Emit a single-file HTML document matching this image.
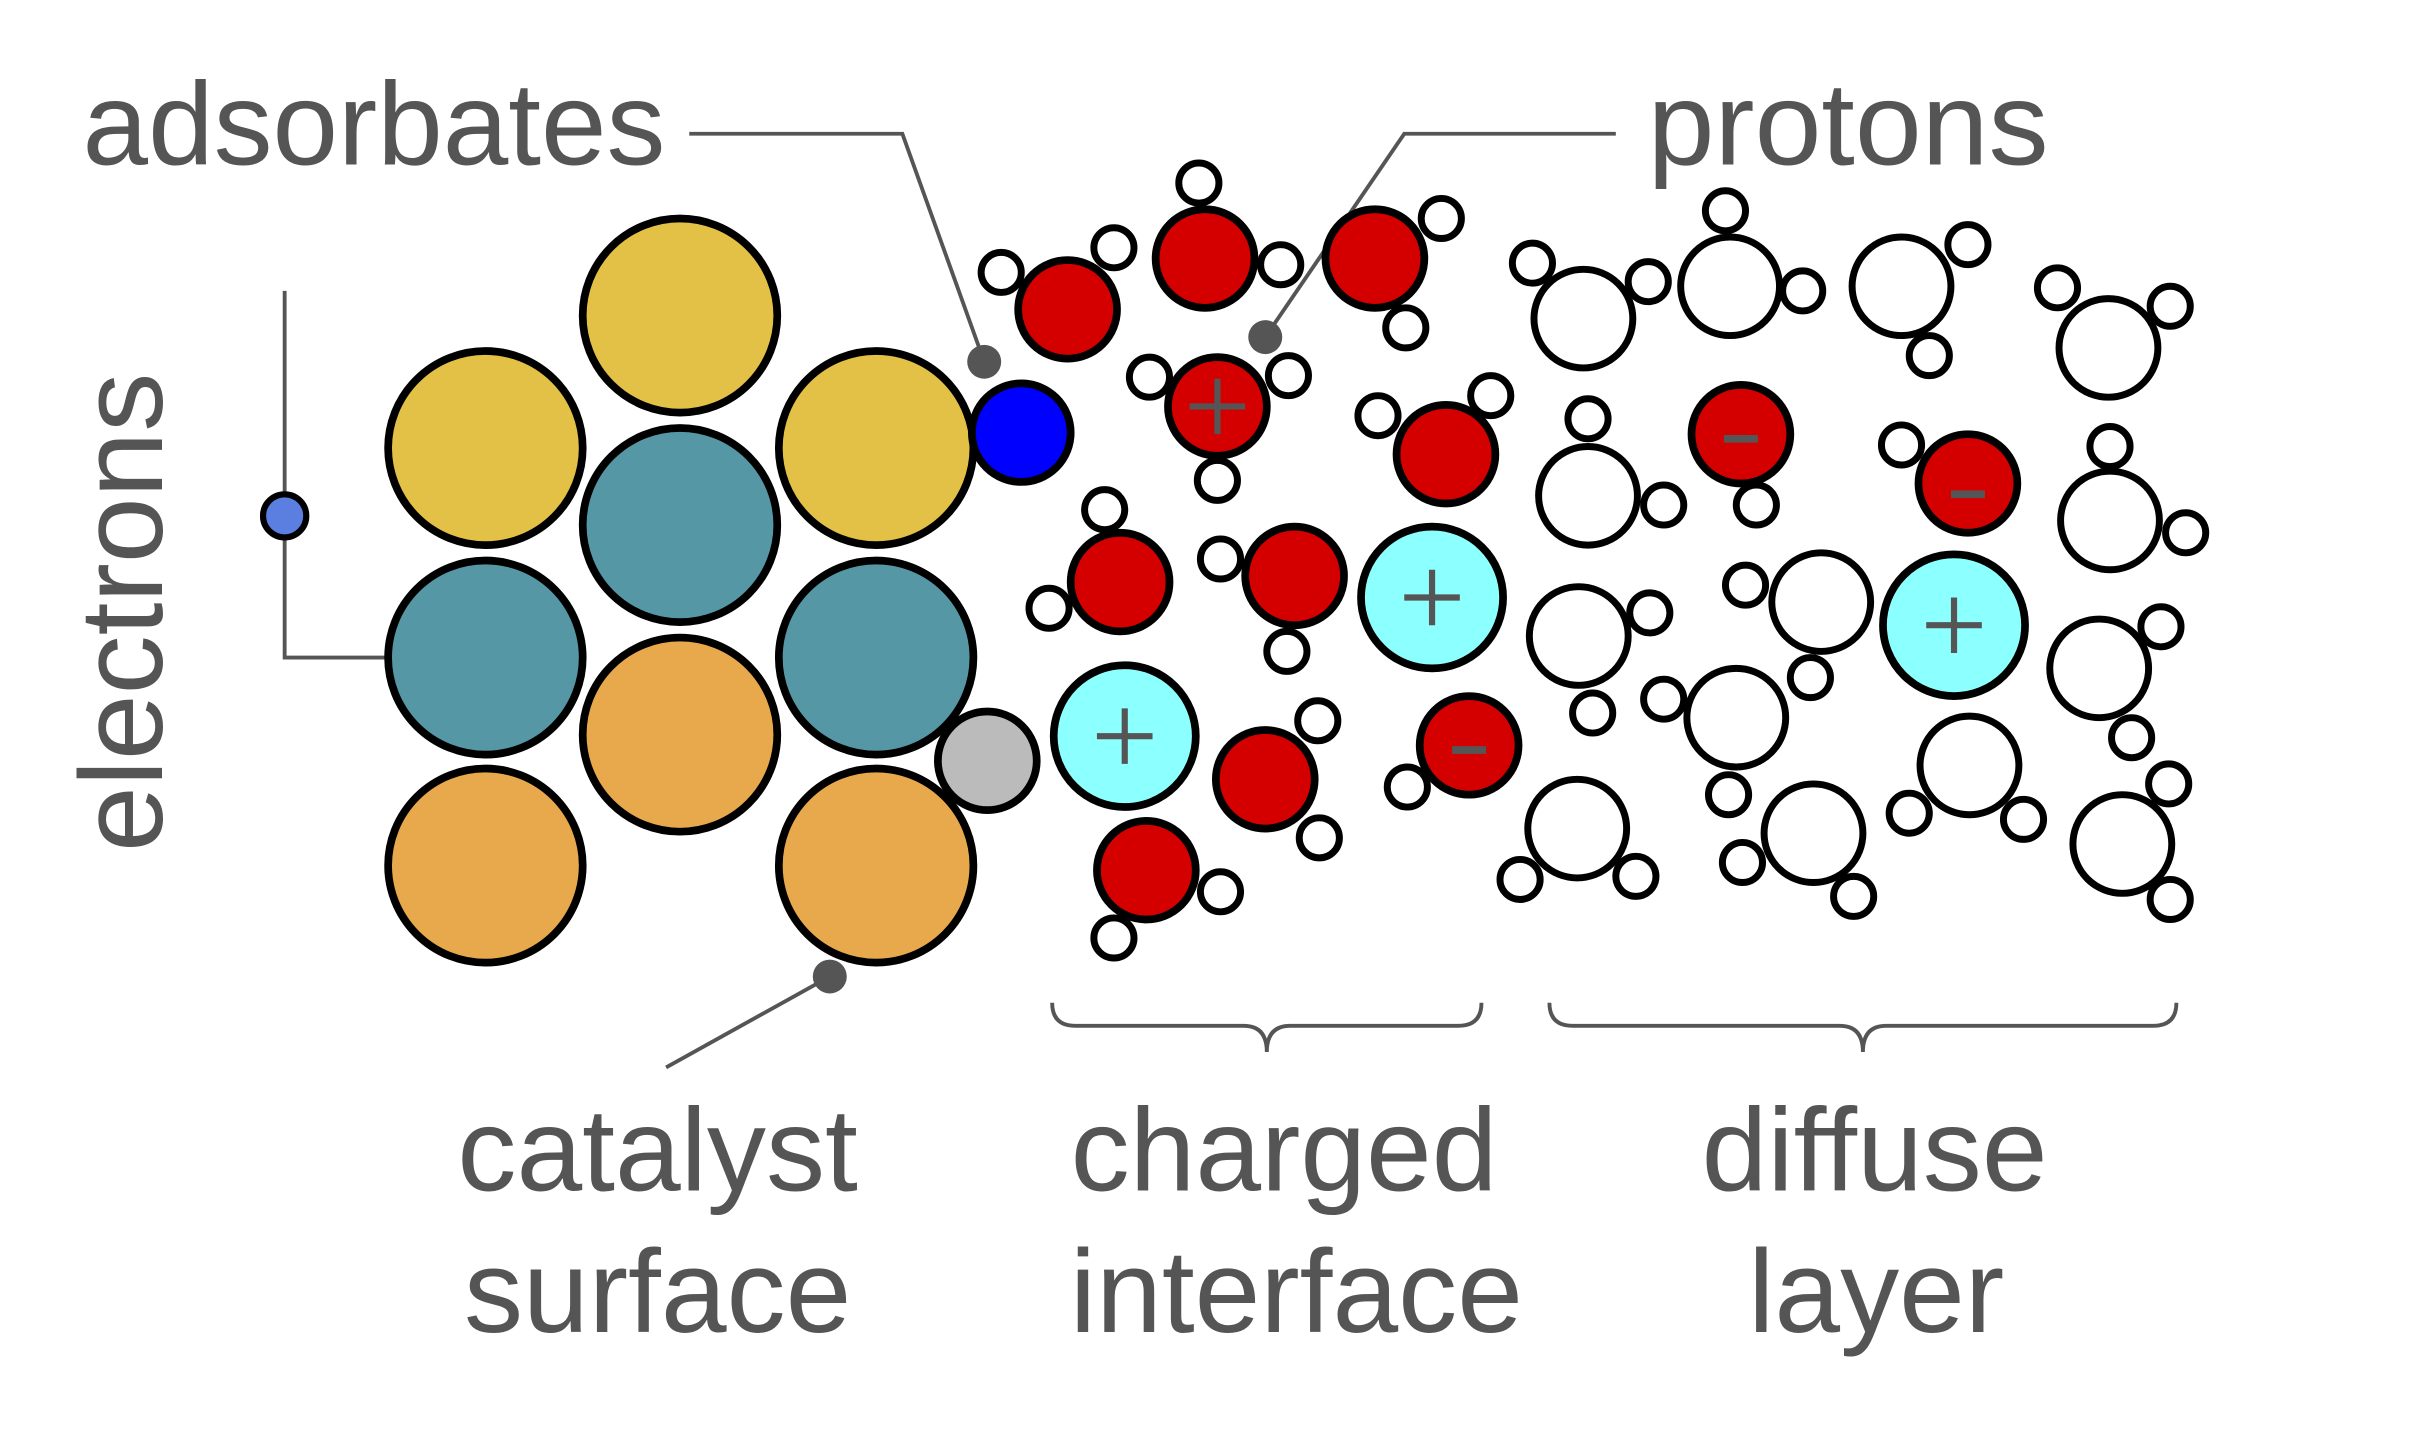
<!DOCTYPE html>
<html><head><meta charset="utf-8"><style>
html,body{margin:0;padding:0;background:#fff}
svg{display:block}
text{font-family:"Liberation Sans",Arial,sans-serif;fill:#555}
</style></head><body>
<svg width="2425" height="1433" viewBox="0 0 1560 922" xmlns="http://www.w3.org/2000/svg">
<rect width="1560" height="922" fill="#fff"/>
<g transform="translate(-0.8,0.8) scale(0.9936,0.9913)">
<g fill="none" stroke="#555" stroke-width="2.5">
<polyline points="447,86 585,86 638,234"/>
<polyline points="1047,86 910,86 820,218"/>
<polyline points="185,188 185,426 250,426"/>
<line x1="432" y1="692" x2="538" y2="633"/>
<path d="M682,650 Q682,665 697,665 L806,665 Q821,665 821,682 Q821,665 836,665 L945,665 Q960,665 960,650"/>
<path d="M1004,650 Q1004,665 1019,665 L1192,665 Q1207,665 1207,682 Q1207,665 1222,665 L1395,665 Q1410,665 1410,650"/>
</g>
<g stroke="#000" stroke-width="5">
<circle cx="441" cy="204" r="63" fill="#E3C046"/>
<circle cx="315" cy="290" r="63" fill="#E3C046"/>
<circle cx="568" cy="290" r="63" fill="#E3C046"/>
<circle cx="441" cy="340" r="63" fill="#5697A5"/>
<circle cx="315" cy="426" r="63" fill="#5697A5"/>
<circle cx="568" cy="426" r="63" fill="#5697A5"/>
<circle cx="441" cy="476" r="63" fill="#E8A84C"/>
<circle cx="315" cy="561" r="63" fill="#E8A84C"/>
<circle cx="568" cy="561" r="63" fill="#E8A84C"/>
<circle cx="662" cy="280" r="32" fill="#0000FF"/>
<circle cx="640" cy="493" r="32" fill="#BBBBBB"/>
<circle cx="185" cy="334" r="14" fill="#5B7FE0" stroke-width="4"/>
</g>
<g fill="#555">
<circle cx="638" cy="234" r="11"/><circle cx="820" cy="218" r="11"/><circle cx="538" cy="633" r="11"/>
</g>
<g stroke="#000" stroke-width="4.5" fill="#fff">
<circle cx="649" cy="176" r="13"/><circle cx="722" cy="160" r="13"/>
<circle cx="777" cy="118" r="13"/><circle cx="830" cy="171" r="13"/>
<circle cx="934" cy="141" r="13"/><circle cx="911" cy="212" r="13"/>
<circle cx="745" cy="244" r="13"/><circle cx="835" cy="243" r="13"/><circle cx="789" cy="311" r="13"/>
<circle cx="893" cy="269" r="13"/><circle cx="966" cy="256" r="13"/>
<circle cx="716" cy="330" r="13"/><circle cx="680" cy="394" r="13"/>
<circle cx="791" cy="362" r="13"/><circle cx="834" cy="422" r="13"/>
<circle cx="854" cy="467" r="13"/><circle cx="855" cy="543" r="13"/>
<circle cx="791" cy="578" r="13"/><circle cx="722" cy="608" r="13"/>
<circle cx="912" cy="510" r="13"/><circle cx="1138" cy="327" r="13"/><circle cx="1232" cy="288" r="13"/>
<circle cx="993" cy="170" r="13"/><circle cx="1068" cy="182" r="13"/>
<circle cx="1118" cy="136" r="13"/><circle cx="1168" cy="188" r="13"/>
<circle cx="1275" cy="158" r="13"/><circle cx="1250" cy="230" r="13"/>
<circle cx="1333" cy="186" r="13"/><circle cx="1406" cy="198" r="13"/>
<circle cx="1029" cy="271" r="13"/><circle cx="1078" cy="327" r="13"/>
<circle cx="1367" cy="289" r="13"/><circle cx="1416" cy="345" r="13"/>
<circle cx="1069" cy="397" r="13"/><circle cx="1032" cy="462" r="13"/>
<circle cx="1131" cy="379" r="13"/><circle cx="1173" cy="439" r="13"/>
<circle cx="1078" cy="453" r="13"/><circle cx="1120" cy="515" r="13"/>
<circle cx="1400" cy="406" r="13"/><circle cx="1381" cy="478" r="13"/>
<circle cx="1237" cy="527" r="13"/><circle cx="1311" cy="531" r="13"/>
<circle cx="985" cy="570" r="13"/><circle cx="1060" cy="568" r="13"/>
<circle cx="1129" cy="559" r="13"/><circle cx="1201" cy="581" r="13"/>
<circle cx="1405" cy="508" r="13"/><circle cx="1406" cy="583" r="13"/>
<circle cx="1026" cy="206" r="32"/><circle cx="1121" cy="185" r="32"/>
<circle cx="1232" cy="185" r="32"/><circle cx="1366" cy="225" r="32"/>
<circle cx="1029" cy="321" r="32"/><circle cx="1367" cy="337" r="32"/>
<circle cx="1023" cy="412" r="32"/><circle cx="1180" cy="390" r="32"/>
<circle cx="1125" cy="465" r="32"/><circle cx="1360" cy="433" r="32"/>
<circle cx="1276" cy="496" r="32"/><circle cx="1022" cy="537" r="32"/>
<circle cx="1175" cy="540" r="32"/><circle cx="1375" cy="547" r="32"/>
</g>
<g stroke="#000" stroke-width="5" fill="#D40000">
<circle cx="692" cy="200" r="32"/><circle cx="781" cy="167" r="32"/>
<circle cx="891" cy="167" r="32"/><circle cx="789" cy="263" r="32"/>
<circle cx="937" cy="294" r="32"/><circle cx="726" cy="377" r="32"/>
<circle cx="839" cy="373" r="32"/><circle cx="820" cy="505" r="32"/>
<circle cx="743" cy="564" r="32"/>
<circle cx="952" cy="483" r="32"/><circle cx="1128" cy="281" r="32"/><circle cx="1275" cy="313" r="32"/>
</g>
<g stroke="#000" stroke-width="5" fill="#8CFFFF">
<circle cx="928" cy="387" r="46"/><circle cx="729" cy="477" r="46"/><circle cx="1266" cy="405" r="46"/>
</g>
<g stroke="#555" stroke-width="4" fill="none">
<path d="M789,245 V281 M771,263 H807"/>
<path d="M928,369 V405 M910,387 H946"/>
<path d="M729,459 V495 M711,477 H747"/>
<path d="M1266,387 V423 M1248,405 H1284"/>
<path d="M941,486 H963 M1117,284 H1139 M1264,320 H1286" stroke-width="5"/>
</g>
</g>
<g font-size="76">
<text x="53" y="106" textLength="375" lengthAdjust="spacingAndGlyphs">adsorbates</text>
<text x="1060" y="106" textLength="258" lengthAdjust="spacingAndGlyphs">protons</text>
<text transform="translate(104,394) rotate(-90)" text-anchor="middle">electrons</text>
<text x="423" y="766" text-anchor="middle">catalyst</text>
<text x="423" y="857" text-anchor="middle">surface</text>
<text x="826" y="766" text-anchor="middle">charged</text>
<text x="834" y="857" text-anchor="middle">interface</text>
<text x="1206" y="766" text-anchor="middle">diffuse</text>
<text x="1207" y="857" text-anchor="middle">layer</text>
</g>
</svg>
</body></html>
